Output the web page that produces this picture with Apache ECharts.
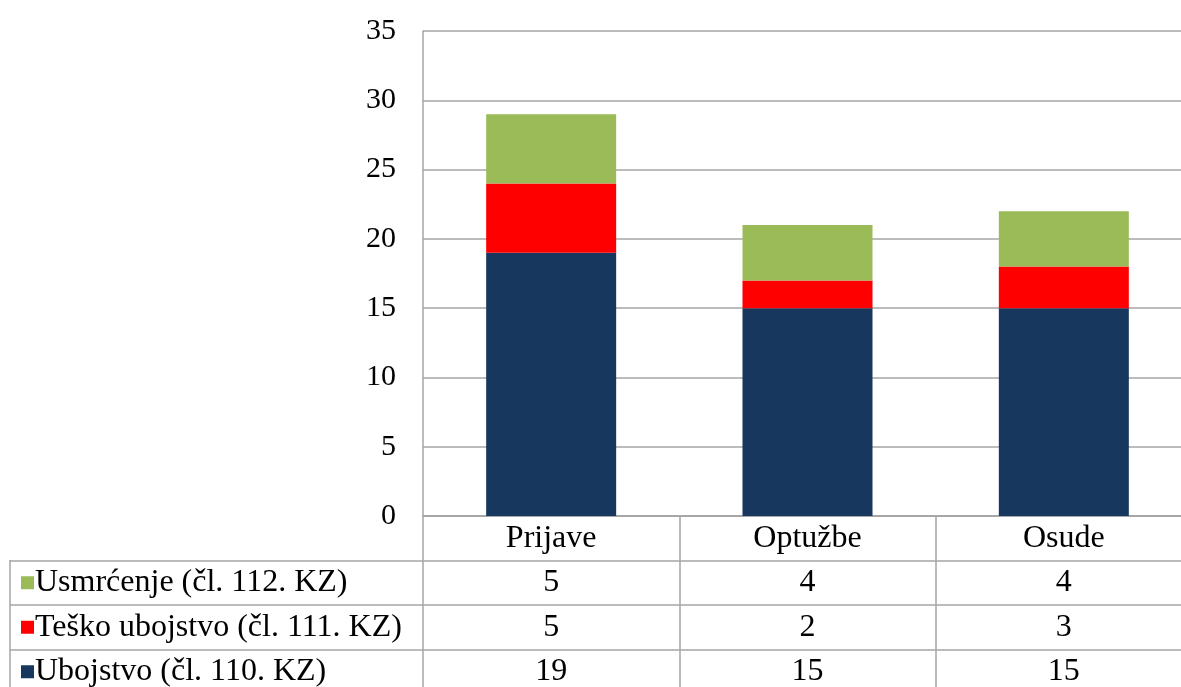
<!DOCTYPE html>
<html><head><meta charset="utf-8">
<script src="https://cdn.jsdelivr.net/npm/echarts@6/dist/echarts.min.js"></script>
<style>html,body{margin:0;padding:0;background:#fff}#c{width:1181px;height:687px}</style>
</head><body><div id="c"></div>
<script>
const categories = ['Prijave', 'Optužbe', 'Osude'];
const seriesNames = ['Ubojstvo (čl. 110. KZ)', 'Teško ubojstvo (čl. 111. KZ)', 'Usmrćenje (čl. 112. KZ)'];
const ubojstvo = [19, 15, 15];
const teskoUbojstvo = [5, 2, 3];
const usmrcenje = [5, 4, 4];
const colors = ['#17375E', '#FF0000', '#9BBB59'];
const yTicks = [0, 5, 10, 15, 20, 25, 30, 35];

const FONT = 'Liberation Serif';
const FS = 30;
const TFS = 32;
const GRID_LINE = '#A6A6A6';

const values = [ubojstvo, teskoUbojstvo, usmrcenje];
// table rows top to bottom: category names, then usmrcenje, tesko, ubojstvo
const tableRows = ['', seriesNames[2], seriesNames[1], seriesNames[0]];
const rowValues = [null, usmrcenje, teskoUbojstvo, ubojstvo];
const rowColors = [null, colors[2], colors[1], colors[0]];

const tableData = [];
for (let r = 0; r < 4; r++) {
  for (let c = 0; c < categories.length; c++) {
    tableData.push([c, r, r === 0 ? categories[c] : String(rowValues[r][c])]);
  }
}

const chart = echarts.init(document.getElementById('c'));
chart.setOption({
  animation: false,
  grid: [
    {left: 423, top: 31, width: 769, height: 485, outerBoundsMode: 'none', containLabel: false},
    {left: 423, top: 516, width: 769, height: 178, outerBoundsMode: 'none', containLabel: false},
    {left: 10, top: 560.5, width: 413, height: 133.5, outerBoundsMode: 'none', containLabel: false}
  ],
  xAxis: [
    {type: 'category', gridIndex: 0, data: categories,
     axisLine: {show: true, lineStyle: {color: GRID_LINE, width: 1.5}},
     axisTick: {show: false}, axisLabel: {show: false}},
    {type: 'category', gridIndex: 1, data: categories, boundaryGap: true,
     axisLine: {show: false}, axisTick: {show: false}, axisLabel: {show: false},
     splitLine: {show: true, lineStyle: {color: GRID_LINE, width: 1.5}}},
    {type: 'value', gridIndex: 2, min: 0, max: 1, show: false}
  ],
  yAxis: [
    {type: 'value', gridIndex: 0, min: 0, max: 35, interval: 5,
     axisLine: {show: true, lineStyle: {color: GRID_LINE, width: 1.5}},
     axisTick: {show: false},
     axisLabel: {fontFamily: FONT, fontSize: FS, color: '#000', margin: 27,
       formatter: v => yTicks.includes(v) ? String(v) : ''},
     splitLine: {show: true, lineStyle: {color: GRID_LINE, width: 1.5}}},
    {type: 'category', gridIndex: 1, data: tableRows, inverse: true,
     axisLine: {show: false}, axisTick: {show: false}, axisLabel: {show: false},
     splitLine: {show: true, lineStyle: {color: GRID_LINE, width: 1.5}}},
    {type: 'category', gridIndex: 2, data: tableRows.slice(1), inverse: true,
     axisLine: {show: true, lineStyle: {color: GRID_LINE, width: 1.5}},
     axisTick: {show: false},
     splitLine: {show: true, lineStyle: {color: GRID_LINE, width: 1.5}},
     axisLabel: {inside: true, margin: 11, align: 'left', verticalAlign: 'middle',
       formatter: (v, i) => '{s' + i + '|}{t|' + v + '}',
       rich: {
         s0: {width: 13, height: 13, backgroundColor: rowColors[1], verticalAlign: 'middle'},
         s1: {width: 13, height: 13, backgroundColor: rowColors[2], verticalAlign: 'middle'},
         s2: {width: 13, height: 13, backgroundColor: rowColors[3], verticalAlign: 'middle'},
         t: {fontFamily: FONT, fontSize: TFS, color: '#000', padding: [0, 0, 0, 1], verticalAlign: 'middle'}
       }}}
  ],
  series: [
    ...values.map((vals, i) => ({
      name: seriesNames[i], type: 'bar', stack: 'total', barWidth: 130,
      xAxisIndex: 0, yAxisIndex: 0, data: vals,
      itemStyle: {color: colors[i]}
    })),
    {type: 'custom', xAxisIndex: 1, yAxisIndex: 1, data: tableData, silent: true,
     renderItem: (params, api) => {
       const p = api.coord([api.value(0), api.value(1)]);
       return {type: 'text', x: p[0], y: p[1],
         style: {text: tableData[params.dataIndex][2], fontFamily: FONT, fontSize: TFS,
           fill: '#000', align: 'center', verticalAlign: 'middle'}};
     }}
  ]
});
</script></body></html>
